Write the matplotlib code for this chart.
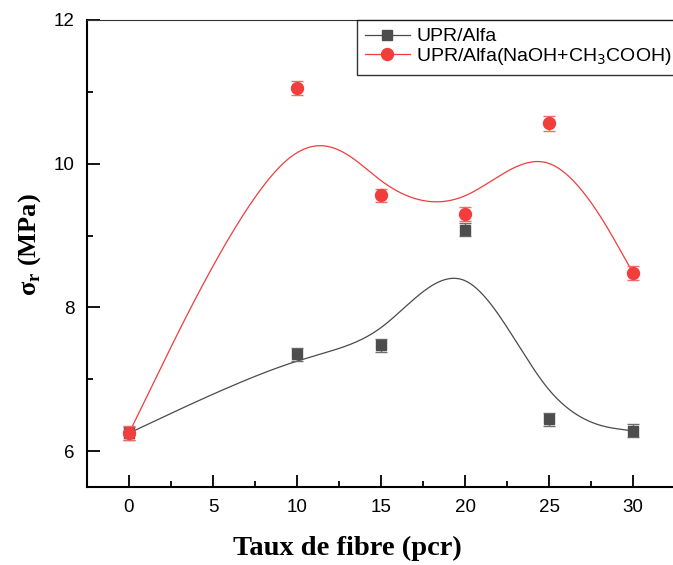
import numpy as np
import matplotlib
matplotlib.use("Agg")
import matplotlib.pyplot as plt
from matplotlib.ticker import MultipleLocator

# Fibre content (pcr) and flexural strength (MPa)
fibre = [0, 10, 15, 20, 25, 30]
sigma_raw = [6.25, 7.35, 7.47, 9.08, 6.44, 6.28]
sigma_treated = [6.25, 11.05, 9.56, 9.30, 10.56, 8.48]
err_raw = [0.09, 0.09, 0.09, 0.09, 0.09, 0.09]
err_treated = [0.1, 0.1, 0.09, 0.1, 0.1, 0.1]

labels = ["UPR/Alfa", "UPR/Alfa(NaOH+CH$_3$COOH)"]


def bspline_curve(px, py, n_seg=80):
    """Uniform cubic B-spline with the data points as control points;
    end points are repeated so the curve starts and ends on them."""
    pts = np.column_stack([px, py]).astype(float)
    ctrl = np.vstack([pts[:1], pts[:1], pts, pts[-1:], pts[-1:]])
    t = np.linspace(0, 1, n_seg)
    b0 = (1 - t) ** 3 / 6
    b1 = (3 * t ** 3 - 6 * t ** 2 + 4) / 6
    b2 = (-3 * t ** 3 + 3 * t ** 2 + 3 * t + 1) / 6
    b3 = t ** 3 / 6
    segs = []
    for i in range(len(ctrl) - 3):
        p0, p1, p2, p3 = ctrl[i:i + 4]
        segs.append(np.outer(b0, p0) + np.outer(b1, p1) + np.outer(b2, p2) + np.outer(b3, p3))
    curve = np.vstack(segs)
    return curve[:, 0], curve[:, 1]


plt.rcParams["font.family"] = ["Liberation Sans", "DejaVu Sans"]

fig = plt.figure(figsize=(6.73, 5.65), dpi=100)
ax = fig.add_axes([87 / 673, 78 / 565, 588 / 673, 467 / 565])

black_line = "#4a4a4a"
black_mark = "#4d4d4d"
red_line = "#f03c3c"
red_mark = "#f23d3d"

bx, by = bspline_curve(fibre, sigma_raw)
rx, ry = bspline_curve(fibre, sigma_treated)
ax.plot(bx, by, color=black_line, lw=0.9, zorder=2)
ax.plot(rx, ry, color=red_line, lw=0.9, zorder=2)

ax.errorbar(fibre, sigma_raw, yerr=err_raw, fmt="s", ms=7.2, color=black_mark,
            ecolor="#6e6e6e", elinewidth=1.0, capsize=4, capthick=1.0, zorder=3)
ax.errorbar(fibre, sigma_treated, yerr=err_treated, fmt="o", ms=8.6, color=red_mark,
            ecolor="#f26a6a", elinewidth=1.0, capsize=4, capthick=1.0, zorder=4)

# legend handles: line with marker
h1, = ax.plot([], [], color=black_line, lw=0.9, marker="s", ms=7.2,
              mfc=black_mark, mec=black_mark)
h2, = ax.plot([], [], color=red_line, lw=0.9, marker="o", ms=8.6,
              mfc=red_mark, mec=red_mark)
leg = ax.legend([h1, h2], labels, loc="upper left", bbox_to_anchor=(270 / 588, 1.0),
                frameon=True, fancybox=False, fontsize=14, handlelength=2.3,
                handletextpad=0.35, borderpad=0.4, labelspacing=0.02,
                borderaxespad=0.0)
leg.get_frame().set_edgecolor("black")
leg.get_frame().set_linewidth(1.0)

ax.set_xlim(-2.5, 32.5)
ax.set_ylim(5.5, 12)
ax.set_xticks([0, 5, 10, 15, 20, 25, 30])
ax.set_yticks([6, 8, 10, 12])
ax.xaxis.set_minor_locator(MultipleLocator(2.5))
ax.yaxis.set_minor_locator(MultipleLocator(1))
ax.tick_params(which="major", direction="in", length=9, width=1.3, labelsize=13.5, pad=9)
ax.tick_params(which="minor", direction="in", length=4.5, width=1.3)
ax.tick_params(axis="x", top=False)
ax.tick_params(axis="y", right=False)

for side in ("left", "bottom"):
    ax.spines[side].set_linewidth(1.5)
ax.spines["top"].set_linewidth(0.8)
ax.spines["top"].set_color("#333333")
ax.spines["right"].set_visible(False)

ax.set_xlabel("Taux de fibre (pcr)", family=["Liberation Serif"], fontweight="bold",
              fontsize=20.5)
ax.xaxis.set_label_coords((347 - 87) / 588, -(548 - 487) / 467)
ax.xaxis.label.set_va("center")
ax.set_ylabel("σ$_\\mathregular{r}$ (MPa)", family=["Liberation Serif", "DejaVu Serif"],
              fontweight="bold", fontsize=19)
ax.yaxis.set_label_coords(-(87 - 30) / 588, (487 - 245) / 467)
ax.yaxis.label.set_va("center")

fig.savefig("out.png", dpi=100)
